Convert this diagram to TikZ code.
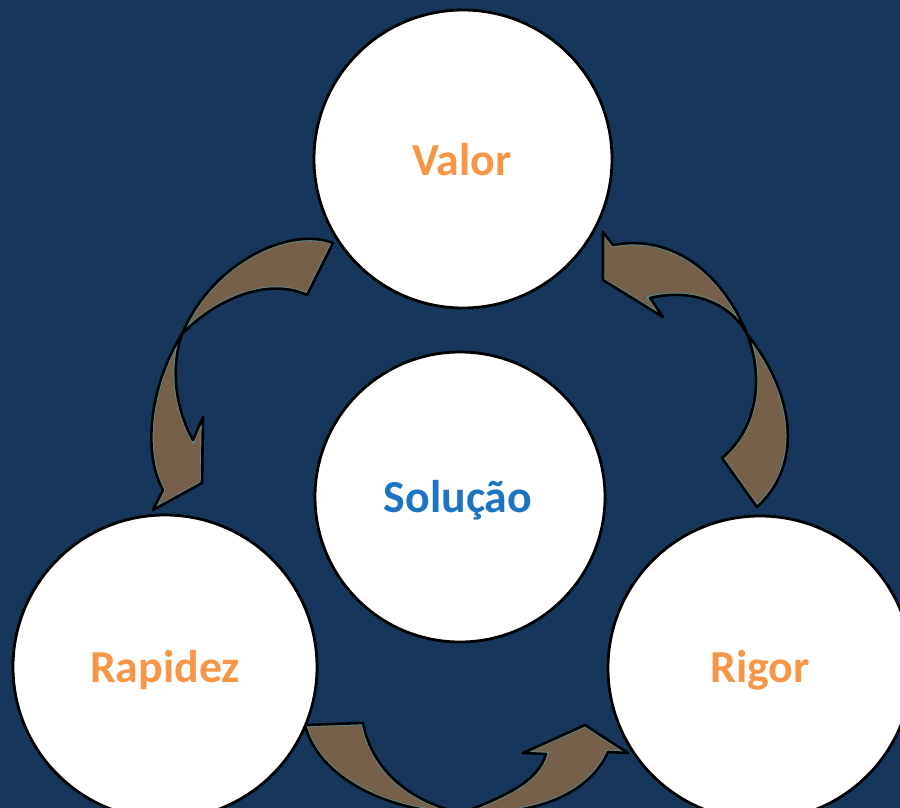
\documentclass[tikz,border=0pt]{standalone}
\usepackage{fontspec}
\setmainfont{Carlito}
\definecolor{bg}{HTML}{16365C}
\definecolor{arrowfill}{HTML}{76604A}
\definecolor{arrowrim}{HTML}{5E8C8C}
\definecolor{labelorange}{HTML}{F79646}
\definecolor{labelblue}{HTML}{1D74C2}
\tikzset{
  bubble/.style={circle, draw=black, line width=2.8bp, fill=white, inner sep=0pt, outer sep=0pt},
  captext/.style={font=\fontsize{46}{46}\selectfont\bfseries, anchor=base, inner sep=0pt},
}
\newcommand\blockarrow[1]{%
  \fill[arrowfill] #1;
  \begin{scope}\clip #1; \draw[arrowrim, line width=4.4bp] #1; \end{scope}
  \draw[black, line width=2.6bp, line join=round] #1;
}
\begin{document}
\begin{tikzpicture}[x=1bp, y=-1bp]
\useasboundingbox (0,0) rectangle (900,808);
\fill[bg] (0,0) rectangle (900,808);
\clip (0,0) rectangle (900,808);

% arrow Valor -> Rapidez (left)
\blockarrow{(333,243) .. controls (290,226) and (212,262) .. (182,334) .. controls (213,302) and (265,276) .. (307,295) -- cycle}
\blockarrow{(182,334) .. controls (150,385) and (142,452) .. (163,490) -- (153,510) -- (202,483) -- (203,417) -- (193,440) .. controls (176,410) and (170,370) .. (182,334) -- cycle}

% arrow Rigor -> Valor (right)
\blockarrow{(747,334) .. controls (722,272) and (672,234) .. (613,245) -- (603,232) -- (603,280) -- (663,317) -- (650,298) .. controls (690,288) and (730,302) .. (747,334) -- cycle}
\blockarrow{(747,334) .. controls (792,390) and (806,462) .. (757,507) -- (722,458) .. controls (756,430) and (765,380) .. (747,334) -- cycle}

% arrow Rapidez -> Rigor (bottom)
\blockarrow{(305,725) -- (363,723) .. controls (372,770) and (410,802) .. (462,813) .. controls (390,813) and (318,778) .. (305,725) -- cycle}
\blockarrow{(462,813) .. controls (505,796) and (538,782) .. (546,754) -- (523,753) -- (585,725) -- (628,753) -- (608,752) .. controls (590,792) and (540,816) .. (462,813) -- cycle}

% circles
\node[bubble, minimum size=298bp] (valor) at (463,159) {};
\node[bubble, minimum size=290bp] (solucao) at (460,497) {};
\node[bubble, minimum size=304bp] (rapidez) at (165,667) {};
\node[bubble, minimum size=304bp] (rigor) at (760,668) {};

% labels
\node[captext, text=labelorange] (tvalor) at (462,175) {Valor};
\node[captext, text=labelblue] (tsolucao) at (458,512) {Solução};
\node[captext, text=labelorange] (trapidez) at (165,682) {Rapidez};
\node[captext, text=labelorange] (trigor) at (760,682) {Rigor};
\end{tikzpicture}
\end{document}
